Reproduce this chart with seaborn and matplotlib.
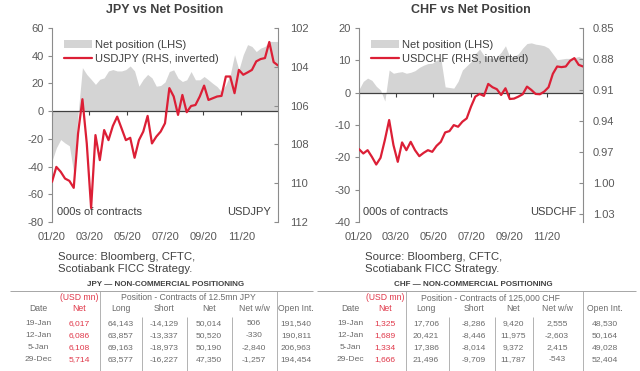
import numpy as np
import pandas as pd
import matplotlib
matplotlib.use('Agg')
import matplotlib.pyplot as plt
from matplotlib.lines import Line2D
from matplotlib.patches import Patch
from matplotlib.markers import TICKDOWN
from matplotlib.ticker import FormatStrFormatter
import seaborn as sns

# weekly CFTC data through 2020
weeks = pd.date_range('2020-01-01', periods=53, freq='7D')

jpy_net = [-36, -26.5, -20.5, -23, -25, -44.6, -2, 31.4, 26.5, 23,
           19.3, 23, 24, 29, 30, 29, 29, 30, 32.6, 29,
           18, 23, 26.5, 24, 18, 18.5, 21, 28.6, 29.8, 23.8,
           21.4, 22.6, 28.6, 22.6, 22.6, 25, 22.6, 20, 17.7, 14,
           19, 26, 40.7, 29.8, 40.7, 48, 46.7, 43, 45.5, 46.7,
           50.3, 50.3, 50.3]
usdjpy = [109.93, 109.16, 109.41, 109.76, 109.88, 110.24, 107.43, 105.67, 107.95, 111.28,
          107.52, 108.81, 107.26, 107.78, 107.05, 106.57, 107.17, 107.78, 107.66, 108.69,
          107.78, 107.34, 106.53, 107.95, 107.60, 107.34, 106.91, 105.10, 105.53, 106.48,
          105.45, 106.34, 106.02, 105.97, 105.53, 104.97, 105.71, 105.62, 105.53, 105.50,
          104.50, 104.50, 105.36, 104.16, 104.41, 104.29, 104.16, 103.72, 103.60, 103.55,
          102.72, 103.76, 103.93]

chf_net = [1.0, 3.5, 4.5, 3.8, 2.0, 0.8, -2.6, 7.0, 6.0, 6.3,
           6.5, 6.0, 6.3, 6.8, 7.8, 8.5, 9.0, 9.1, 10.0, 10.5,
           1.8, 1.6, 1.4, 3.5, 7.0, 8.3, 9.6, 12.0, 13.5, 11.5,
           10.8, 10.6, 11.0, 12.5, 14.5, 11.0, 11.2, 12.0, 13.8, 15.2,
           15.4, 15.0, 14.8, 14.5, 13.8, 12.0, 10.2, 10.4, 10.6, 10.6,
           10.8, 11.2, 10.6]
usdchf = [0.9674, 0.9716, 0.9684, 0.9749, 0.9823, 0.9758, 0.9586, 0.9392, 0.9635, 0.9797,
          0.9609, 0.9684, 0.9603, 0.9684, 0.9742, 0.9710, 0.9684, 0.9700, 0.9642, 0.9603,
          0.9512, 0.9499, 0.9441, 0.9457, 0.9408, 0.9376, 0.9262, 0.9165, 0.9139, 0.9158,
          0.9042, 0.9074, 0.9093, 0.9149, 0.9084, 0.9188, 0.9184, 0.9165, 0.9142, 0.9068,
          0.9100, 0.9139, 0.9142, 0.9116, 0.9074, 0.8944, 0.8873, 0.8879, 0.8873, 0.8818,
          0.8792, 0.8857, 0.8873]

tick_dates = pd.to_datetime(['2020-01-01', '2020-03-01', '2020-05-01',
                             '2020-07-01', '2020-09-01', '2020-11-01'])
tick_labels = ['01/20', '03/20', '05/20', '07/20', '09/20', '11/20']

# positioning tables
tab_dates = ['19-Jan', '12-Jan', '5-Jan', '29-Dec']
jpy_usd = [6017, 6086, 6108, 5714]
jpy_long = [64143, 63857, 69163, 63577]
jpy_short = [-14129, -13337, -18973, -16227]
jpy_netc = [50014, 50520, 50190, 47350]
jpy_ww = [506, -330, -2840, -1257]
jpy_oi = [191540, 190811, 206963, 194454]

chf_usd = [1325, 1689, 1334, 1666]
chf_long = [17706, 20421, 17386, 21496]
chf_short = [-8286, -8446, -8014, -9709]
chf_netc = [9420, 11975, 9372, 11787]
chf_ww = [2555, -2603, 2415, -543]
chf_oi = [48530, 50164, 49028, 52404]

RED = '#dc1f36'
GRAY = '#d4d4d4'
TXT = '#595959'
AXC = '#8c8c8c'
DARK = '#404040'

sns.set_style('white')
plt.rcParams['font.family'] = ['Liberation Sans', 'DejaVu Sans']
plt.rcParams['axes.unicode_minus'] = False

fig = plt.figure(figsize=(6.4, 3.71), dpi=100)


def panel(l_px, r_px, net, spot, pair, title, net_lim, net_ticks, spot_lim, spot_ticks, fmt, rpad):
    df = pd.DataFrame({'date': weeks, 'net': net, 'spot': spot})
    ax = fig.add_axes([l_px / 640, 1 - 222 / 371, (r_px - l_px) / 640, 194 / 371])
    ax.fill_between(df['date'], 0, df['net'], color=GRAY, lw=0, zorder=1)
    ax.axhline(0, color=DARK, lw=0.9, zorder=2)
    ax.plot(tick_dates, np.zeros(len(tick_dates)), ls='none', marker=TICKDOWN,
            ms=3, mew=0.8, color=DARK, zorder=2)
    ax.set_xlim(weeks[0], weeks[-1])
    ax.set_ylim(*net_lim)
    ax.set_yticks(net_ticks)
    ax.set_xticks(tick_dates)
    ax.set_xticklabels(tick_labels)
    ax.tick_params(axis='x', length=0, pad=7, labelsize=8, labelcolor=TXT)
    ax.tick_params(axis='y', length=3, width=0.8, color=AXC, pad=3,
                   labelsize=8, labelcolor=TXT, direction='out')
    for s in ['top', 'bottom', 'right']:
        ax.spines[s].set_visible(False)
    ax.spines['left'].set_color(AXC)
    ax.set_xlabel('')
    ax.set_ylabel('')

    ax2 = ax.twinx()
    sns.lineplot(data=df, x='date', y='spot', ax=ax2, color=RED, lw=1.6)
    ax2.set_ylim(*spot_lim)
    ax2.set_yticks(spot_ticks)
    ax2.yaxis.set_major_formatter(FormatStrFormatter(fmt))
    ax2.tick_params(axis='y', length=3, width=0.8, color=AXC, pad=rpad,
                    labelsize=8, labelcolor=TXT, direction='in')
    for s in ['top', 'bottom', 'left']:
        ax2.spines[s].set_visible(False)
    ax2.spines['right'].set_color(AXC)
    ax2.set_xlabel('')
    ax2.set_ylabel('')

    handles = [Patch(facecolor=GRAY, edgecolor='none', label='Net position (LHS)'),
               Line2D([], [], color=RED, lw=1.6, label=pair + ' (RHS, inverted)')]
    ax2.legend(handles=handles, loc='upper left', bbox_to_anchor=(0.035, 0.96),
               frameon=False, fontsize=8, handlelength=2.45, handletextpad=0.3,
               labelspacing=0.35, borderaxespad=0, labelcolor=DARK)

    ax.text(0.02, 0.025, '000s of contracts', transform=ax.transAxes,
            fontsize=8, color=DARK, va='bottom', ha='left')
    ax.text(0.97, 0.025, pair, transform=ax.transAxes,
            fontsize=8, color=DARK, va='bottom', ha='right')
    fig.text((l_px + r_px) / 2 / 640, 1 - 10 / 371, title, ha='center', va='center',
             fontsize=9, fontweight='bold', color=DARK)


panel(52, 278, jpy_net, usdjpy, 'USDJPY', 'JPY vs Net Position',
      (-80, 60), range(-80, 61, 20), (112, 102), range(102, 113, 2), '%d', 8.5)
panel(359, 583, chf_net, usdchf, 'USDCHF', 'CHF vs Net Position',
      (-40, 20), range(-40, 21, 10), (1.038, 0.85),
      [0.85, 0.88, 0.91, 0.94, 0.97, 1.00, 1.03], '%.2f', 7)

# overlay in pixel coordinates for source notes and tables
ov = fig.add_axes([0, 0, 1, 1])
ov.set_xlim(0, 640)
ov.set_ylim(371, 0)
ov.axis('off')

LINE = '#a6a6a6'
TAB = '#6b6b6b'
TRED = '#e0384a'
row_y = [323.7, 335.6, 347.4, 359.2]


def table(title, title_x, x0, x1, vfull, vrows, pos_text, pos_x, cols, usd, long_, short, netc, ww, oi):
    ov.text(58 + x0 - 10, 263, 'Source: Bloomberg, CFTC,\nScotiabank FICC Strategy.',
            fontsize=8.2, color=DARK, va='center', ha='left', linespacing=1.3)
    ov.text(title_x, 285, title, ha='center', va='center', fontsize=5.8,
            fontweight='bold', color=DARK)
    ov.hlines(291, x0, x1, color=LINE, lw=0.7)
    ov.vlines(vfull, 291, 371, color=LINE, lw=0.6)
    ov.vlines(vrows, 317, 371, color=LINE, lw=0.6)
    ov.text(cols[1], 298, '(USD mn)', ha='center', va='center', fontsize=6.2, color=TRED)
    ov.text(pos_x, 298, pos_text, ha='center', va='center', fontsize=6.2, color=TAB)
    heads = ['Date', 'Net', 'Long', 'Short', 'Net', 'Net w/w', 'Open Int.']
    for j, h in enumerate(heads):
        ov.text(cols[j], 308.5, h, ha='center', va='center', fontsize=6.2,
                color=TRED if j == 1 else TAB)
    for i, y in enumerate(row_y):
        vals = [tab_dates[i], f'{usd[i]:,}', f'{long_[i]:,}', f'{short[i]:,}',
                f'{netc[i]:,}', f'{ww[i]:,}', f'{oi[i]:,}']
        for j, v in enumerate(vals):
            ov.text(cols[j], y, v, ha='center', va='center', fontsize=6.1,
                    color=TRED if j == 1 else TAB)


table('JPY \u2014 NON-COMMERCIAL POSITIONING', 166, 10, 313, [100, 276.7],
      [141.7, 186.7, 231.7], 'Position - Contracts of 12.5mn JPY', 188,
      [38, 79, 121, 164, 209, 254, 296],
      jpy_usd, jpy_long, jpy_short, jpy_netc, jpy_ww, jpy_oi)
table('CHF \u2014 NON-COMMERCIAL POSITIONING', 473, 317, 636, [406, 583],
      [449, 495, 533], 'Position - Contracts of 125,000 CHF', 490,
      [350, 385, 426, 474, 513, 557, 605],
      chf_usd, chf_long, chf_short, chf_netc, chf_ww, chf_oi)

fig.savefig('out.png', dpi=100)
